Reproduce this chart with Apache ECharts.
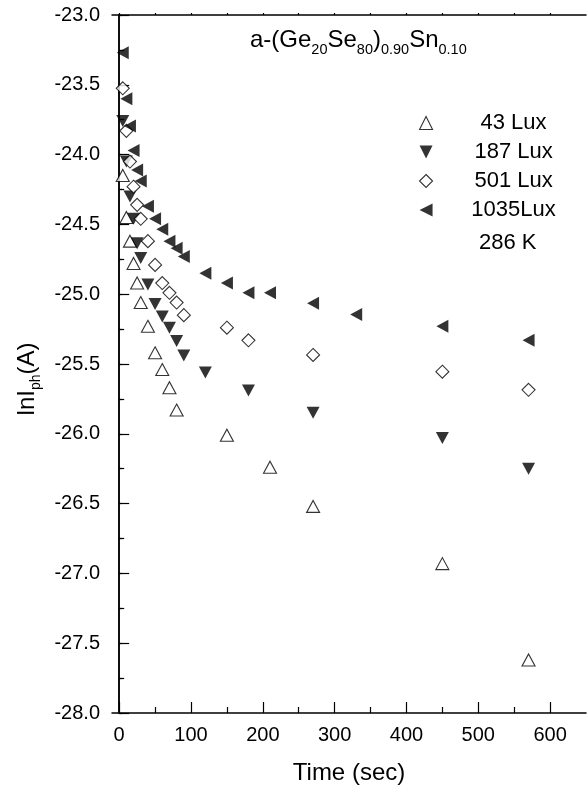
<!DOCTYPE html>
<html>
<head>
<meta charset="utf-8">
<script src="https://cdn.jsdelivr.net/npm/echarts@6/dist/echarts.min.js"></script>
<style>
  html, body { margin: 0; padding: 0; background: #fff; }
  #chart { width: 588px; height: 785px; }
</style>
</head>
<body>
<div id="chart"></div>
<script>
const FONT = '"Liberation Sans", Arial, Helvetica, sans-serif';

// Photocurrent decay, ln(I_ph) versus time, at four light intensities (286 K)
const seriesNames = ['43 Lux', '187 Lux', '501 Lux', '1035Lux'];

const time43 = [5, 10, 15, 20, 25, 30, 40, 50, 60, 70, 80, 150, 210, 270, 450, 570];
const lnI43  = [-24.15, -24.45, -24.62, -24.78, -24.92, -25.06, -25.23, -25.42, -25.54, -25.67, -25.83, -26.01, -26.24, -26.52, -26.93, -27.62];

const time187 = [5, 10, 15, 20, 25, 30, 40, 50, 60, 70, 80, 90, 120, 180, 270, 450, 570];
const lnI187  = [-23.76, -24.05, -24.30, -24.46, -24.635, -24.74, -24.93, -25.07, -25.16, -25.24, -25.335, -25.44, -25.56, -25.69, -25.85, -26.03, -26.25];

const time501 = [5, 10, 15, 20, 25, 30, 40, 50, 60, 70, 80, 90, 150, 180, 270, 450, 570];
const lnI501  = [-23.525, -23.83, -24.05, -24.23, -24.36, -24.46, -24.62, -24.79, -24.92, -24.99, -25.06, -25.15, -25.24, -25.33, -25.435, -25.555, -25.685];

const time1035 = [5, 10, 15, 20, 25, 30, 40, 50, 60, 70, 80, 90, 120, 150, 180, 210, 270, 330, 450, 570];
const lnI1035  = [-23.27, -23.60, -23.795, -23.97, -24.11, -24.19, -24.37, -24.46, -24.535, -24.62, -24.67, -24.73, -24.85, -24.92, -24.99, -24.99, -25.065, -25.145, -25.23, -25.33];

// Axis ticks
const xMajorTicks = [0, 100, 200, 300, 400, 500, 600];
const xMinorTicks = [50, 150, 250, 350, 450, 550];
const xRange = [-10, 650];
const yRange = [-28, -23];
const yStep = 0.5;

function pairs(xs, ys) {
  return xs.map((x, i) => [x, ys[i]]);
}

// Marker shapes shared by the series and their legend entries
const ICON_UP = 'path://M5,0 L10,10 L0,10 Z';
const ICON_DOWN = 'path://M0,0 L10,0 L5,10 Z';
const ICON_LEFT = 'path://M10,0 L10,10 L0,5 Z';
const ICON_DIAMOND = 'path://M5,0 L10,5 L5,10 L0,5 Z';

const openStyle = { color: '#fff', borderColor: '#000', borderWidth: 1.1 };
const filledStyle = { color: '#000', borderColor: '#000', borderWidth: 0 };

const axisLine = { show: true, lineStyle: { color: '#000', width: 1.5 } };
const tickLine = { color: '#000', width: 1.2 };

const chart = echarts.init(document.getElementById('chart'), null, { renderer: 'canvas' });

const option = {
  backgroundColor: '#fff',
  animation: false,
  title: [
    {
      text: '{m|a-(Ge}{s|20}{m|Se}{s|80}{m|)}{s|0.90}{m|Sn}{s|0.10}',
      left: 250,
      top: 28,
      padding: 0,
      textStyle: {
        fontWeight: 'normal',
        rich: {
          m: { fontSize: 24, fontFamily: FONT, fontWeight: 'normal', color: '#000', lineHeight: 26, verticalAlign: 'top' },
          s: { fontSize: 14.5, fontFamily: FONT, fontWeight: 'normal', color: '#000', lineHeight: 14.5, padding: [17, 0, 0, 0] }
        }
      }
    },
    {
      text: '286 K',
      left: 479,
      top: 231,
      padding: 0,
      textStyle: { fontSize: 22, fontFamily: FONT, color: '#000', fontWeight: 'normal', lineHeight: 24 }
    }
  ],
  legend: {
    orient: 'vertical',
    left: 419,
    top: 112,
    padding: 0,
    itemGap: 7,
    itemWidth: 15,
    itemHeight: 13,
    selectedMode: false,
    data: [
      { name: seriesNames[0], icon: ICON_UP, itemStyle: openStyle },
      { name: seriesNames[1], icon: ICON_DOWN, itemStyle: filledStyle },
      { name: seriesNames[2], icon: ICON_DIAMOND, itemStyle: openStyle },
      { name: seriesNames[3], icon: ICON_LEFT, itemStyle: filledStyle }
    ],
    formatter: '{t|{name}}',
    textStyle: {
      color: '#000',
      fontFamily: FONT,
      fontSize: 22,
      rich: {
        t: { fontSize: 22, fontFamily: FONT, color: '#000', width: 150, align: 'center', lineHeight: 24 }
      }
    }
  },
  grid: {
    left: 112,
    right: 2,
    top: 15,
    bottom: 72,
    containLabel: false,
    outerBoundsMode: 'none'
  },
  xAxis: [
    {
      type: 'value',
      min: xRange[0],
      max: xRange[1],
      position: 'bottom',
      axisLine: axisLine,
      axisTick: { show: true, inside: true, length: 11, lineStyle: tickLine, customValues: xMajorTicks },
      axisLabel: { show: true, customValues: xMajorTicks, color: '#000', fontFamily: FONT, fontSize: 20, margin: 12 },
      splitLine: { show: false },
      name: 'Time (sec)',
      nameLocation: 'middle',
      nameGap: 48,
      nameTextStyle: { color: '#000', fontFamily: FONT, fontSize: 24 }
    },
    {
      type: 'value',
      min: xRange[0],
      max: xRange[1],
      position: 'bottom',
      axisLine: { show: false },
      axisTick: { show: true, inside: true, length: 6, lineStyle: tickLine, customValues: xMinorTicks },
      axisLabel: { show: false },
      splitLine: { show: false }
    },
    {
      type: 'value',
      min: xRange[0],
      max: xRange[1],
      position: 'top',
      axisLine: axisLine,
      axisTick: { show: true, inside: false, length: 2, lineStyle: tickLine, customValues: xMajorTicks.concat(xMinorTicks) },
      axisLabel: { show: false },
      splitLine: { show: false }
    }
  ],
  yAxis: [
    {
      type: 'value',
      min: yRange[0],
      max: yRange[1],
      interval: yStep,
      position: 'left',
      axisLine: axisLine,
      axisTick: { show: true, inside: true, length: 10, lineStyle: tickLine },
      minorTick: { show: true, splitNumber: 2, length: 5, lineStyle: tickLine },
      axisLabel: {
        color: '#000', fontFamily: FONT, fontSize: 20, margin: 12,
        formatter: v => v.toFixed(1)
      },
      splitLine: { show: false },
      name: '{a|lnI}{b|ph}{a|(A)}',
      nameLocation: 'middle',
      nameRotate: 90,
      nameGap: 68,
      nameTextStyle: {
        padding: [0, 30, 0, 0],
        rich: {
          a: { fontSize: 24, fontFamily: FONT, color: '#000', lineHeight: 26, verticalAlign: 'top' },
          b: { fontSize: 14, fontFamily: FONT, color: '#000', lineHeight: 14, padding: [16, 0, 0, 0] }
        }
      }
    },
    {
      type: 'value',
      min: yRange[0],
      max: yRange[1],
      interval: yStep,
      position: 'right',
      axisLine: axisLine,
      axisTick: { show: true, inside: false, length: 3, lineStyle: tickLine },
      minorTick: { show: true, splitNumber: 2, length: 3, lineStyle: tickLine },
      axisLabel: { show: false },
      splitLine: { show: false }
    }
  ],
  series: [
    {
      name: seriesNames[0],
      type: 'scatter',
      data: pairs(time43, lnI43),
      symbol: ICON_UP,
      symbolSize: [13, 12],
      itemStyle: openStyle
    },
    {
      name: seriesNames[1],
      type: 'scatter',
      data: pairs(time187, lnI187),
      symbol: ICON_DOWN,
      symbolSize: [13, 12],
      itemStyle: filledStyle
    },
    {
      name: seriesNames[2],
      type: 'scatter',
      data: pairs(time501, lnI501),
      symbol: ICON_DIAMOND,
      symbolSize: [13, 13],
      itemStyle: openStyle
    },
    {
      name: seriesNames[3],
      type: 'scatter',
      data: pairs(time1035, lnI1035),
      symbol: ICON_LEFT,
      symbolSize: [12, 13],
      itemStyle: filledStyle
    }
  ]
};

chart.setOption(option);
</script>
</body>
</html>
